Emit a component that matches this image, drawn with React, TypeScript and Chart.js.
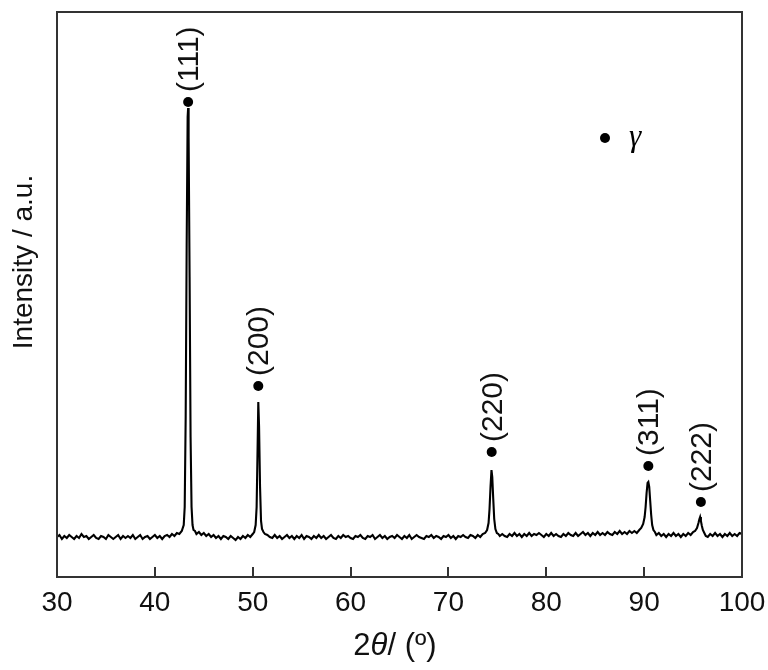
import React, { useEffect, useRef } from "react";
import { Chart, registerables } from "chart.js";

Chart.register(...registerables);

const twoTheta: number[] = [
  30.0, 30.25, 30.5, 30.75, 31.0, 31.25, 31.5, 31.75, 32.0, 32.25, 32.5, 32.75, 33.0, 33.25, 33.5, 33.75,
  34.0, 34.25, 34.5, 34.75, 35.0, 35.25, 35.5, 35.75, 36.0, 36.25, 36.5, 36.75, 37.0, 37.25, 37.5, 37.75,
  38.0, 38.25, 38.5, 38.75, 39.0, 39.25, 39.5, 39.75, 40.0, 40.25, 40.5, 40.75, 41.0, 41.25, 41.5, 41.75,
  42.0, 42.25, 42.5, 42.75, 42.95, 43.05, 43.15, 43.25, 43.35, 43.4, 43.45, 43.55, 43.65, 43.75, 43.85, 43.95,
  44.1, 44.25, 44.5, 44.75, 45.0, 45.25, 45.5, 45.75, 46.0, 46.25, 46.5, 46.75, 47.0, 47.25, 47.5, 47.75,
  48.0, 48.25, 48.5, 48.75, 49.0, 49.25, 49.5, 49.75, 50.0, 50.15, 50.3, 50.4, 50.5, 50.57, 50.65, 50.75,
  50.85, 50.95, 51.1, 51.25, 51.5, 51.75, 52.0, 52.25, 52.5, 52.75, 53.0, 53.25, 53.5, 53.75, 54.0, 54.25,
  54.5, 54.75, 55.0, 55.25, 55.5, 55.75, 56.0, 56.25, 56.5, 56.75, 57.0, 57.25, 57.5, 57.75, 58.0, 58.25,
  58.5, 58.75, 59.0, 59.25, 59.5, 59.75, 60.0, 60.25, 60.5, 60.75, 61.0, 61.25, 61.5, 61.75, 62.0, 62.25,
  62.5, 62.75, 63.0, 63.25, 63.5, 63.75, 64.0, 64.25, 64.5, 64.75, 65.0, 65.25, 65.5, 65.75, 66.0, 66.25,
  66.5, 66.75, 67.0, 67.25, 67.5, 67.75, 68.0, 68.25, 68.5, 68.75, 69.0, 69.25, 69.5, 69.75, 70.0, 70.25,
  70.5, 70.75, 71.0, 71.25, 71.5, 71.75, 72.0, 72.25, 72.5, 72.75, 73.0, 73.25, 73.5, 73.75, 73.95, 74.1,
  74.2, 74.3, 74.4, 74.48, 74.58, 74.68, 74.8, 74.95, 75.1, 75.25, 75.5, 75.75, 76.0, 76.25, 76.5, 76.75,
  77.0, 77.25, 77.5, 77.75, 78.0, 78.25, 78.5, 78.75, 79.0, 79.25, 79.5, 79.75, 80.0, 80.25, 80.5, 80.75,
  81.0, 81.25, 81.5, 81.75, 82.0, 82.25, 82.5, 82.75, 83.0, 83.25, 83.5, 83.75, 84.0, 84.25, 84.5, 84.75,
  85.0, 85.25, 85.5, 85.75, 86.0, 86.25, 86.5, 86.75, 87.0, 87.25, 87.5, 87.75, 88.0, 88.25, 88.5, 88.75,
  89.0, 89.25, 89.5, 89.7, 89.9, 90.05, 90.15, 90.25, 90.35, 90.43, 90.52, 90.62, 90.72, 90.82, 90.95, 91.1,
  91.25, 91.5, 91.75, 92.0, 92.25, 92.5, 92.75, 93.0, 93.25, 93.5, 93.75, 94.0, 94.25, 94.5, 94.75, 95.0,
  95.2, 95.4, 95.55, 95.65, 95.72, 95.8, 95.9, 96.0, 96.15, 96.3, 96.5, 96.75, 97.0, 97.25, 97.5, 97.75,
  98.0, 98.25, 98.5, 98.75, 99.0, 99.25, 99.5, 99.75, 100.0,
];

const intensity: number[] = [
  40, 42, 38, 41, 39, 42, 40, 38, 41, 39, 43, 40, 41, 38, 40, 42,
  39, 38, 41, 40, 38, 42, 40, 38, 40, 42, 38, 41, 39, 41, 39, 42,
  38, 40, 42, 38, 40, 41, 38, 40, 42, 39, 41, 38, 41, 42, 40, 43,
  41, 44, 43, 46, 52, 70, 160, 330, 460, 469, 440, 300, 140, 70, 52, 47,
  46, 43, 45, 42, 44, 41, 43, 40, 42, 39, 41, 38, 41, 40, 38, 41,
  39, 37, 40, 38, 41, 39, 42, 40, 43, 45, 52, 70, 130, 175, 150, 90,
  56, 48, 45, 43, 42, 40, 39, 42, 39, 41, 38, 40, 42, 39, 41, 38,
  41, 39, 42, 38, 41, 40, 38, 41, 39, 42, 39, 41, 38, 40, 42, 39,
  38, 41, 39, 42, 40, 41, 39, 38, 41, 40, 42, 39, 38, 41, 40, 42,
  38, 40, 42, 39, 41, 38, 40, 41, 39, 42, 40, 38, 41, 39, 42, 38,
  40, 42, 40, 39, 38, 41, 40, 42, 39, 41, 40, 38, 41, 40, 42, 39,
  41, 38, 41, 40, 42, 40, 39, 42, 41, 39, 42, 40, 43, 44, 47, 54,
  68, 90, 107, 100, 78, 58, 48, 44, 43, 41, 43, 41, 40, 43, 41, 44,
  41, 43, 40, 43, 41, 44, 41, 43, 42, 44, 42, 40, 43, 41, 44, 41,
  43, 41, 40, 43, 41, 44, 42, 41, 44, 41, 43, 45, 42, 44, 41, 44,
  42, 45, 42, 44, 42, 45, 43, 42, 45, 43, 46, 43, 45, 43, 46, 44,
  46, 44, 47, 49, 53, 60, 70, 84, 94, 95, 90, 76, 62, 52, 47, 45,
  42, 44, 41, 43, 40, 43, 41, 44, 41, 43, 40, 43, 41, 44, 42, 45,
  46, 49, 54, 58, 60, 56, 51, 47, 44, 41, 40, 43, 41, 44, 41, 43,
  40, 43, 41, 44, 41, 43, 41, 44, 43,
];

// peak annotations (γ phase)
const peakLabels: string[] = ["(111)", "(200)", "(220)", "(311)", "(222)"];
const peakPositions: number[] = [43.4, 50.57, 74.42, 90.43, 95.8];
const markerHeights: number[] = [475, 191, 125, 111, 75];

const xMin = 30;
const xMax = 100;
const xStep = 10;
const yMin = 0;
const yMax = 565;

const legendPhase = "γ";
const legendPos = { x: 86.0, y: 439 };

const FONT = "'Liberation Sans', Arial, sans-serif";

const decorPlugin = {
  id: "decor",
  afterDatasetsDraw(chart: any) {
    const { ctx, chartArea: ca, scales } = chart;
    const xs = scales.x;
    const ys = scales.y;
    ctx.save();
    // frame
    ctx.strokeStyle = "#333";
    ctx.lineWidth = 2;
    ctx.strokeRect(ca.left, ca.top, ca.right - ca.left, ca.bottom - ca.top);
    // inward ticks
    xs.ticks.forEach((t: any) => {
      if (t.value <= xMin || t.value >= xMax) return;
      const px = Math.round(xs.getPixelForValue(t.value));
      ctx.beginPath();
      ctx.moveTo(px, ca.bottom);
      ctx.lineTo(px, ca.bottom - 10);
      ctx.stroke();
    });
    // peak labels
    ctx.fillStyle = "#111";
    ctx.font = `30px ${FONT}`;
    ctx.textAlign = "left";
    ctx.textBaseline = "alphabetic";
    peakLabels.forEach((lab, i) => {
      const px = xs.getPixelForValue(peakPositions[i]);
      const py = ys.getPixelForValue(markerHeights[i]);
      ctx.save();
      ctx.translate(px + 10, py - 10);
      ctx.rotate(-Math.PI / 2);
      ctx.fillText(lab, 0, 0);
      ctx.restore();
    });
    // legend
    const lx = xs.getPixelForValue(legendPos.x);
    const ly = ys.getPixelForValue(legendPos.y);
    ctx.fillStyle = "#000";
    ctx.beginPath();
    ctx.arc(lx, ly, 5, 0, Math.PI * 2);
    ctx.fill();
    ctx.font = `italic 31px 'Liberation Serif', 'Times New Roman', serif`;
    ctx.fillText(legendPhase, lx + 24, ly + 8);
    // x axis title: 2θ/ (º)
    const parts = [
      { t: "2", f: `31px ${FONT}` },
      { t: "θ", f: `italic 31px ${FONT}` },
      { t: "/ (º)", f: `31px ${FONT}` },
    ];
    let total = 0;
    parts.forEach((p) => {
      ctx.font = p.f;
      total += ctx.measureText(p.t).width;
    });
    let x = 395 - total / 2;
    const yb = ca.bottom + 78;
    ctx.fillStyle = "#111";
    parts.forEach((p) => {
      ctx.font = p.f;
      ctx.fillText(p.t, x, yb);
      x += ctx.measureText(p.t).width;
    });
    // y axis title
    ctx.save();
    ctx.font = `28px ${FONT}`;
    ctx.textAlign = "center";
    ctx.translate(32, ca.top + 250);
    ctx.rotate(-Math.PI / 2);
    ctx.fillText("Intensity / a.u.", 0, 0);
    ctx.restore();
    ctx.restore();
  },
};

export default function App() {
  const ref = useRef<HTMLCanvasElement | null>(null);
  useEffect(() => {
    document.body.style.margin = "0";
    const canvas = ref.current;
    if (!canvas) return;
    const points = twoTheta.map((x, i) => ({ x, y: intensity[i] }));
    const markers = peakPositions.map((x, i) => ({ x, y: markerHeights[i] }));
    const chart = new Chart(canvas, {
      type: "scatter",
      data: {
        datasets: [
          {
            data: points,
            showLine: true,
            borderColor: "#000",
            borderWidth: 2.1,
            pointRadius: 0,
            tension: 0,
          },
          {
            data: markers,
            showLine: false,
            pointRadius: 5,
            pointBackgroundColor: "#000",
            pointBorderWidth: 0,
          },
        ],
      },
      options: {
        animation: false,
        responsive: false,
        devicePixelRatio: 1,
        layout: { padding: { left: 57, right: 26, top: 12, bottom: 0 } },
        plugins: { legend: { display: false }, tooltip: { enabled: false } },
        scales: {
          x: {
            type: "linear",
            min: xMin,
            max: xMax,
            grid: { display: false, drawTicks: false },
            border: { display: false },
            ticks: {
              stepSize: xStep,
              padding: 9,
              color: "#111",
              font: { family: FONT, size: 28 },
              maxRotation: 0,
            },
            afterFit: (s: any) => {
              s.height = 93;
              s.paddingLeft = 0;
              s.paddingRight = 0;
            },
          },
          y: {
            display: false,
            min: yMin,
            max: yMax,
          },
        },
      },
      plugins: [decorPlugin],
    });
    return () => chart.destroy();
  }, []);
  return (
    <div style={{ width: 768, height: 670, background: "#fff" }}>
      <canvas ref={ref} width={768} height={670} style={{ width: 768, height: 670, display: "block" }} />
    </div>
  );
}
